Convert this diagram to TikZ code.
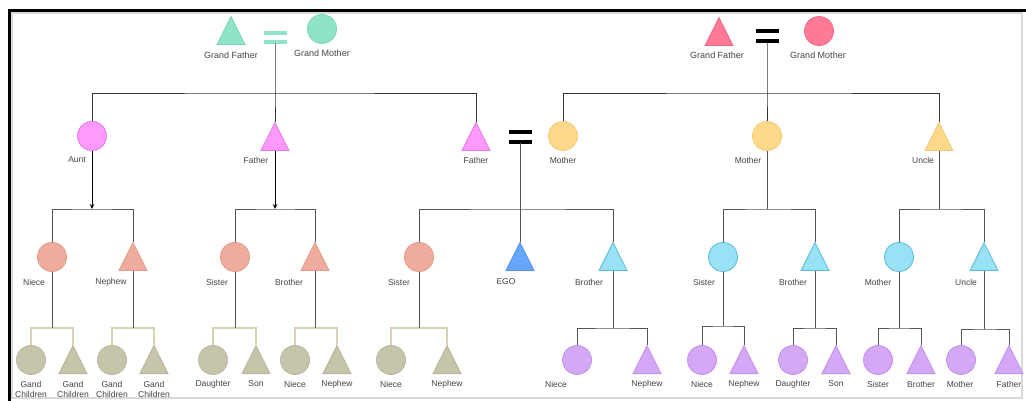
\documentclass[tikz,border=0pt]{standalone}
\usepackage{fontspec}
\setmainfont{Liberation Sans}
\usetikzlibrary{shapes.geometric,arrows.meta}
\definecolor{cTeal}{HTML}{8FE3C9}
\definecolor{cTealD}{HTML}{7DD4B8}
\definecolor{cRose}{HTML}{FF7A96}
\definecolor{cRoseD}{HTML}{F06A88}
\definecolor{cMag}{HTML}{FF99FF}
\definecolor{cMagD}{HTML}{E07AE0}
\definecolor{cYel}{HTML}{FFD98A}
\definecolor{cYelD}{HTML}{F2C874}
\definecolor{cSal}{HTML}{EEAC9C}
\definecolor{cSalD}{HTML}{E2978A}
\definecolor{cBlue}{HTML}{66A6FF}
\definecolor{cBlueD}{HTML}{4F92EC}
\definecolor{cCyan}{HTML}{99E1F5}
\definecolor{cCyanD}{HTML}{5ABBD9}
\definecolor{cPur}{HTML}{D3A8F5}
\definecolor{cPurD}{HTML}{C392EC}
\definecolor{cGre}{HTML}{C6C4AA}
\definecolor{cGreD}{HTML}{B6B499}
\definecolor{cOlive}{HTML}{D6D3B0}
\definecolor{cLine}{HTML}{555555}
\definecolor{cText}{HTML}{444444}
\begin{document}
\begin{tikzpicture}[x=1pt,y=-1pt,
  circ/.style={circle, minimum size=29pt, inner sep=0pt, line width=0.8pt},
  tri/.style={isosceles triangle, isosceles triangle stretches, shape border rotate=90,
    minimum width=28pt, minimum height=28pt, inner sep=0pt, anchor=south, line width=0.8pt},
  fTeal/.style={fill=cTeal, draw=cTealD},
  fRose/.style={fill=cRose, draw=cRoseD},
  fMag/.style={fill=cMag, draw=cMagD},
  fYel/.style={fill=cYel, draw=cYelD},
  fSal/.style={fill=cSal, draw=cSalD},
  fBlue/.style={fill=cBlue, draw=cBlueD},
  fCyan/.style={fill=cCyan, draw=cCyanD},
  fPur/.style={fill=cPur, draw=cPurD},
  fGre/.style={fill=cGre, draw=cGreD},
  lbl/.style={font=\fontsize{8.5}{10}\selectfont, text=cText, inner sep=0pt, align=center},
  biglbl/.style={lbl, font=\fontsize{9}{10}\selectfont},
  topline/.style={draw=black!80, line width=0.9pt},
  link/.style={draw=cLine, line width=0.9pt},
  olink/.style={draw=cOlive, line width=1.1pt},
  arr/.style={-{Stealth[length=5pt,width=4.5pt]}, black},
  eqbar/.style={line width=3.5pt},
]
\useasboundingbox (0,0) rectangle (1026,401);
\fill[white] (0,0) rectangle (1026,401);
% frame
\draw[draw=black!15, line width=1.2pt] (12,13) rectangle (1022,398);
\draw[line width=3pt, black] (9.5,401) -- (9.5,10.5) -- (1026,10.5);

% ---------- Row 1 ----------
\node[tri,fTeal] (lgf) at (231,45) {};
\node[circ,fTeal] (lgm) at (322,29) {};
\draw[eqbar, cTeal] (264,33) -- (287,33) (264,42) -- (287,42);
\coordinate (leq) at (275,43.5);
\node[tri,fRose] (rgf) at (719,46) {};
\node[circ,fRose] (rgm) at (819,31) {};
\draw[eqbar, black] (756,31) -- (779,31) (756,41) -- (779,41);
\coordinate (req) at (767,42.5);
\node[biglbl] (tlgf) at (231,55) {Grand Father};
\node[biglbl] (tlgm) at (322,53) {Grand Mother};
\node[biglbl] (trgf) at (717,55) {Grand Father};
\node[biglbl] (trgm) at (818,55) {Grand Mother};

% ---------- Row 2 ----------
\node[circ,fMag] (aunt) at (92,136) {};
\node[tri,fMag] (lfa) at (275,151) {};
\node[tri,fMag] (fa) at (476,151) {};
\node[circ,fYel] (mo) at (563,136) {};
\node[circ,fYel] (mo2) at (767,136) {};
\node[tri,fYel] (un) at (939,151) {};
\draw[eqbar, black] (509,132) -- (532,132) (509,142) -- (532,142);
\coordinate (meq) at (520,143.5);
\node[lbl] (taunt) at (77,160) {Aunt};
\node[lbl] (tlfa) at (256,160) {Father};
\node[lbl] (tfa) at (476,160) {Father};
\node[lbl] (tmo) at (563,160) {Mother};
\node[lbl] (tmo2) at (748,160) {Mother};
\node[lbl] (tun) at (923,160) {Uncle};

\coordinate (lj) at (275,93);
\coordinate (rj) at (767,93);
\draw[topline] (aunt.north) |- (lj) -| (fa.north);
\draw[topline] (leq) -- (lj) -- (lfa.north);
\draw[topline] (mo.north) |- (rj) -| (un.north);
\draw[topline] (req) -- (rj) -- (mo2.north);

% ---------- Row 3 ----------
\node[circ,fSal] (ni1) at (52,257) {};
\node[tri,fSal] (ne1) at (133,271) {};
\node[circ,fSal] (si1) at (235,257) {};
\node[tri,fSal] (br1) at (315,271) {};
\node[circ,fSal] (si2) at (419,257) {};
\node[tri,fBlue] (ego) at (520,271) {};
\node[tri,fCyan] (br2) at (613,271) {};
\node[circ,fCyan] (si3) at (723,257) {};
\node[tri,fCyan] (br3) at (815,271) {};
\node[circ,fCyan] (mo3) at (899,257) {};
\node[tri,fCyan] (un2) at (984,271) {};
\node[lbl] (tni1) at (34,282) {Niece};
\node[lbl] (tne1) at (111,282) {Nephew};
\node[lbl] (tsi1) at (217,282) {Sister};
\node[lbl] (tbr1) at (289,282) {Brother};
\node[lbl] (tsi2) at (399,282) {Sister};
\node[lbl] (tego) at (506,282) {EGO};
\node[lbl] (tbr2) at (589,282) {Brother};
\node[lbl] (tsi3) at (704,282) {Sister};
\node[lbl] (tbr3) at (793,282) {Brother};
\node[lbl] (tmo3) at (878,282) {Mother};
\node[lbl] (tun2) at (966,282) {Uncle};

\coordinate (aj) at (92,209);
\coordinate (fj) at (275,209);
\coordinate (ej) at (520,209);
\coordinate (mj) at (767,209);
\coordinate (uj) at (939,209);
\draw[link,arr] (aunt.south) -- (aj);
\draw[link] (ni1.north) |- (aj) -| (ne1.north);
\draw[link,arr] (lfa.south) -- (fj);
\draw[link] (si1.north) |- (fj) -| (br1.north);
\draw[link] (meq) -- (ego.north);
\draw[link] (si2.north) |- (ej) -| (br2.north);
\draw[link] (mo2.south) -- (mj);
\draw[link] (si3.north) |- (mj) -| (br3.north);
\draw[link] (un.south) -- (uj);
\draw[link] (mo3.north) |- (uj) -| (un2.north);

% ---------- Row 4 ----------
\node[circ,fGre] (gc1) at (31,360) {};
\node[tri,fGre] (gc2) at (73,374) {};
\node[circ,fGre] (gc3) at (112,360) {};
\node[tri,fGre] (gc4) at (154,374) {};
\node[circ,fGre] (da1) at (213,360) {};
\node[tri,fGre] (so1) at (256,374) {};
\node[circ,fGre] (ni2) at (295,360) {};
\node[tri,fGre] (ne2) at (337,374) {};
\node[circ,fGre] (ni3) at (391,360) {};
\node[tri,fGre] (ne3) at (447,374) {};
\node[circ,fPur] (ni4) at (577,360) {};
\node[tri,fPur] (ne4) at (647,374) {};
\node[circ,fPur] (ni5) at (702,360) {};
\node[tri,fPur] (ne5) at (744,374) {};
\node[circ,fPur] (da2) at (793,360) {};
\node[tri,fPur] (so2) at (836,374) {};
\node[circ,fPur] (si4) at (878,360) {};
\node[tri,fPur] (br4) at (921,374) {};
\node[circ,fPur] (mo4) at (961,360) {};
\node[tri,fPur] (fa4) at (1009,374) {};

\node[lbl] (tgc1) at (31,389) {Gand\\Children};
\node[lbl] (tgc2) at (73,389) {Gand\\Children};
\node[lbl] (tgc3) at (112,389) {Gand\\Children};
\node[lbl] (tgc4) at (154,389) {Gand\\Children};
\node[lbl] (tda1) at (213,384) {Daughter};
\node[lbl] (tso1) at (256,384) {Son};
\node[lbl] (tni2) at (295,384) {Niece};
\node[lbl] (tne2) at (337,384) {Nephew};
\node[lbl] (tni3) at (391,384) {Niece};
\node[lbl] (tne3) at (447,384) {Nephew};
\node[lbl] (tni4) at (556,384) {Niece};
\node[lbl] (tne4) at (647,384) {Nephew};
\node[lbl] (tni5) at (702,384) {Niece};
\node[lbl] (tne5) at (744,384) {Nephew};
\node[lbl] (tda2) at (793,384) {Daughter};
\node[lbl] (tso2) at (836,384) {Son};
\node[lbl] (tsi4) at (878,384) {Sister};
\node[lbl] (tbr4) at (921,384) {Brother};
\node[lbl] (tmo4) at (960,384) {Mother};
\node[lbl] (tfa4) at (1009,384) {Father};

\coordinate (k1) at (52,328);
\coordinate (k2) at (133,328);
\coordinate (k3) at (235,328);
\coordinate (k4) at (315,328);
\coordinate (k5) at (419,328);
\coordinate (k6) at (613,328);
\coordinate (k7) at (723,326);
\coordinate (k8) at (815,328);
\coordinate (k9) at (899,328);
\coordinate (k10) at (984,329);
\draw[olink] (gc1.north) |- (k1) -| (gc2.north);
\draw[olink] (gc3.north) |- (k2) -| (gc4.north);
\draw[olink] (da1.north) |- (k3) -| (so1.north);
\draw[olink] (ni2.north) |- (k4) -| (ne2.north);
\draw[olink] (ni3.north) |- (k5) -| (ne3.north);
\draw[link] (ni4.north) |- (k6) -| (ne4.north);
\draw[link] (ni5.north) |- (k7) -| (ne5.north);
\draw[link] (da2.north) |- (k8) -| (so2.north);
\draw[link] (si4.north) |- (k9) -| (br4.north);
\draw[link] (mo4.north) |- (k10) -| (fa4.north);
\draw[link] (ni1.south) -- (k1);
\draw[link] (ne1.south) -- (k2);
\draw[link] (si1.south) -- (k3);
\draw[link] (br1.south) -- (k4);
\draw[link] (si2.south) -- (k5);
\draw[link] (br2.south) -- (k6);
\draw[link] (si3.south) -- (k7);
\draw[link] (br3.south) -- (k8);
\draw[link] (mo3.south) -- (k9);
\draw[link] (un2.south) -- (k10);
\end{tikzpicture}
\end{document}
